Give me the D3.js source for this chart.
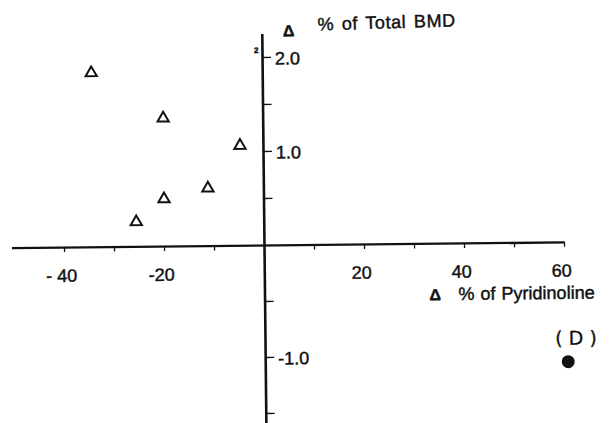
<!DOCTYPE html>
<html>
<head>
<meta charset="utf-8">
<script src="https://cdn.jsdelivr.net/npm/d3@7"></script>
<style>
  html, body { margin: 0; padding: 0; background: #fff; }
  svg { display: block; }
  text { font-family: "Liberation Sans", Arial, Helvetica, sans-serif; fill: #111; stroke: #111; stroke-width: 0.45px; }
  .axis path, .axis line { stroke: #111; }
</style>
</head>
<body>
<svg id="chart" width="616" height="423"></svg>
<script>
// 値（写真から読み取り）
var pyrChange = [-34.2, -19.9, -4.6, -11.1, -19.9, -25.5];   // Δ % of Pyridinoline
var bmdChange = [1.85, 1.36, 1.06, 0.61, 0.50, 0.26];        // Δ % of Total BMD
var outlierX = [60.6];
var outlierY = [-1.07];
var outlierLabel = ["( D )"];

var xTicks = [-40, -30, -20, -10, 10, 20, 30, 40, 50, 60];
var xTickLabels = {"-40": "- 40", "-20": "-20", "20": "20", "40": "40", "60": "60"};
var yTicks = [-1.5, -1, -0.5, 0.5, 1, 1.5, 2];
var yTickLabels = {"2": "2.0", "1": "1.0", "-1": "-1.0"};

var x0 = 264, y0 = 245;
var pxPerX = 5, pxPerYUp = 94, pxPerYDown = 112;

var svg = d3.select("#chart");
// スキャンの傾き
var g = svg.append("g")
    .attr("transform", "rotate(-0.6," + x0 + "," + y0 + ")");

var x = d3.scaleLinear()
    .domain([-50.5, 60])
    .range([x0 - 50.5 * pxPerX, x0 + 60 * pxPerX]);

// 上下で目盛り間隔が違う
var y = d3.scaleLinear()
    .domain([-2, 0, 2.25])
    .range([y0 + 2 * pxPerYDown, y0, y0 - 2.25 * pxPerYUp]);

// x軸
var xAxis = g.append("g")
    .attr("class", "axis")
    .attr("transform", "translate(0," + y0 + ")")
    .call(d3.axisBottom(x)
        .tickValues(xTicks)
        .tickSize(5)
        .tickSizeOuter(0)
        .tickPadding(17)
        .tickFormat(function(d){ return xTickLabels[d] || ""; }));
xAxis.select(".domain").attr("stroke-width", 2.4);
xAxis.selectAll(".tick line").attr("stroke-width", 1.3);
xAxis.selectAll("text")
    .attr("dx", -3)
    .style("font-size", "18px");

// y軸
var yAxis = g.append("g")
    .attr("class", "axis")
    .attr("transform", "translate(" + x0 + ",0)")
    .call(d3.axisRight(y)
        .tickValues(yTicks)
        .tickSize(9)
        .tickSizeOuter(0)
        .tickPadding(4)
        .tickFormat(function(d){ return yTickLabels[d] || ""; }));
yAxis.select(".domain").attr("stroke-width", 2.6);
yAxis.selectAll(".tick line").attr("stroke-width", 1.4);
yAxis.selectAll("text")
    .attr("dy", "0.4em")
    .attr("text-anchor", "start")
    .style("font-size", "18px");

// 軸ラベル
var topTitle = g.append("g")
    .attr("transform", "rotate(-1.1,320,30)");
topTitle.append("text")
    .attr("x", 285).attr("y", 36)
    .style("font-size", "16px").style("font-weight", "bold")
    .text("Δ");
topTitle.append("text")
    .attr("x", 320).attr("y", 31)
    .style("font-size", "18px")
    .style("letter-spacing", "0.6px")
    .style("word-spacing", "2px")
    .text("% of Total BMD");

g.append("text")
    .attr("x", 429).attr("y", 302)
    .style("font-size", "16px").style("font-weight", "bold")
    .text("Δ");
g.append("text")
    .attr("x", 458).attr("y", 302)
    .style("font-size", "18px")
    .style("word-spacing", "1px")
    .text("% of Pyridinoline");

// 小さな "2"
g.append("text")
    .attr("x", 256).attr("y", 53)
    .style("font-size", "8px").style("font-weight", "bold")
    .text("2");

// データ点（白抜き三角）
var pts = pyrChange.map(function(d, i){ return {x: d, y: bmdChange[i]}; });
g.selectAll(".tri")
    .data(pts)
    .enter().append("path")
    .attr("class", "tri")
    .attr("d", d3.symbol(d3.symbolTriangle, 55))
    .attr("transform", function(d){ return "translate(" + x(d.x) + "," + y(d.y) + ")"; })
    .attr("fill", "#fff")
    .attr("stroke", "#111")
    .attr("stroke-width", 2)
    .attr("stroke-linejoin", "miter");

// 外れ値 (D)
var outs = outlierX.map(function(d, i){ return {x: d, y: outlierY[i], label: outlierLabel[i]}; });
g.selectAll(".out")
    .data(outs)
    .enter().append("circle")
    .attr("class", "out")
    .attr("cx", function(d){ return x(d.x); })
    .attr("cy", function(d){ return y(d.y); })
    .attr("r", 6.5)
    .attr("fill", "#111");
g.selectAll(".outlab")
    .data(outs)
    .enter().append("text")
    .attr("class", "outlab")
    .attr("x", function(d){ return x(d.x) + 8; })
    .attr("y", function(d){ return y(d.y) - 17; })
    .attr("text-anchor", "middle")
    .style("font-family", "'DejaVu Sans', sans-serif")
    .style("font-size", "19px")
    .style("stroke-width", "0.3px")
    .text(function(d){ return d.label; });
</script>
</body>
</html>
